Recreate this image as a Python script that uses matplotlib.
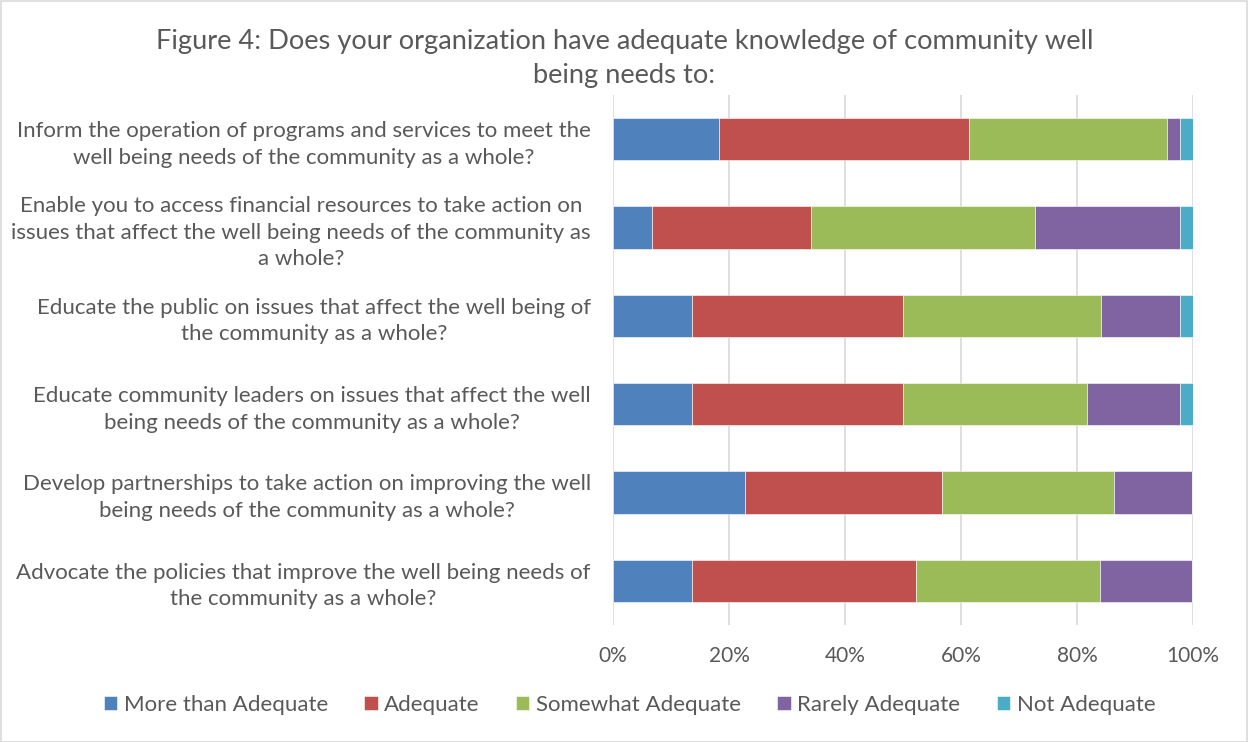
import matplotlib
matplotlib.use("Agg")
import matplotlib.pyplot as plt
from matplotlib.ticker import FuncFormatter
from matplotlib.patches import Rectangle
import numpy as np

plt.rcParams['font.family'] = ['Lato', 'DejaVu Sans']

title = "Figure 4: Does your organization have adequate knowledge of community well\nbeing needs to:"

questions = [
    "Inform the operation of programs and services to meet the\nwell being needs of the community as a whole?",
    "Enable you to access financial resources to take action on\nissues that affect the well being needs of the community as\na whole?",
    "Educate the public on issues that affect the well being of\nthe community as a whole?",
    "Educate community leaders on issues that affect the well\nbeing needs of the community as a whole?",
    "Develop partnerships to take action on improving the well\nbeing needs of the community as a whole?",
    "Advocate the policies that improve the well being needs of\nthe community as a whole?",
]

series_names = ["More than Adequate", "Adequate", "Somewhat Adequate",
                "Rarely Adequate", "Not Adequate"]

# percent of respondents per question (same order as questions)
more_than_adequate = [18.2, 6.8, 13.6, 13.6, 22.7, 13.6]
adequate = [43.2, 27.3, 36.4, 36.4, 34.1, 38.6]
somewhat_adequate = [34.1, 38.6, 34.1, 31.8, 29.5, 31.8]
rarely_adequate = [2.3, 25.0, 13.6, 15.9, 13.6, 15.9]
not_adequate = [2.3, 2.3, 2.3, 2.3, 0.0, 0.0]

colors = ["#4F81BD", "#C0504D", "#9BBB59", "#8064A2", "#4BACC6"]
text_gray = "#595959"

fig = plt.figure(figsize=(12.49, 7.42), dpi=100)

# light chart-area border
fig.patches.append(Rectangle((0.0005, 0.0005), 0.998, 0.998, transform=fig.transFigure,
                             fill=False, edgecolor="#D9D9D9", linewidth=1.2))

ax = fig.add_axes([613 / 1249, 1 - 625 / 742, 580 / 1249, 530 / 742])

y = np.arange(len(questions))
left = np.zeros(len(questions))
for name, vals, c in zip(series_names,
                         [more_than_adequate, adequate, somewhat_adequate,
                          rarely_adequate, not_adequate], colors):
    vals = np.array(vals)
    ax.barh(y, vals, left=left, height=0.48, color=c, label=name,
            edgecolor="white", linewidth=0.4, zorder=3)
    left += vals

ax.set_xlim(0, 100)
ax.set_ylim(len(questions) - 0.5, -0.5)
ax.set_xticks(np.arange(0, 101, 20))
ax.xaxis.set_major_formatter(FuncFormatter(lambda v, p: f"{int(v)}%"))
ax.set_yticks(y)
ax.set_yticklabels(questions, fontsize=16, color=text_gray, linespacing=1.4,
                   multialignment='center')
ax.tick_params(axis='x', labelsize=15, labelcolor=text_gray, length=0, pad=15)
ax.tick_params(axis='y', length=0, pad=16)
ax.grid(axis='x', color="#D9D9D9", linewidth=1.2, zorder=0)
for s in ax.spines.values():
    s.set_visible(False)

fig.text(624.5 / 1249, 1 - 58.5 / 742, title, ha='center', va='center',
         fontsize=19.6, color=text_gray, linespacing=1.41)

fig.legend(loc='center', bbox_to_anchor=(629.5 / 1249, 1 - 705 / 742), ncol=5,
           frameon=False, fontsize=16, handlelength=0.6, handleheight=0.6,
           handletextpad=0.3, columnspacing=1.63, labelcolor=text_gray)

fig.savefig("out.png", dpi=100)
